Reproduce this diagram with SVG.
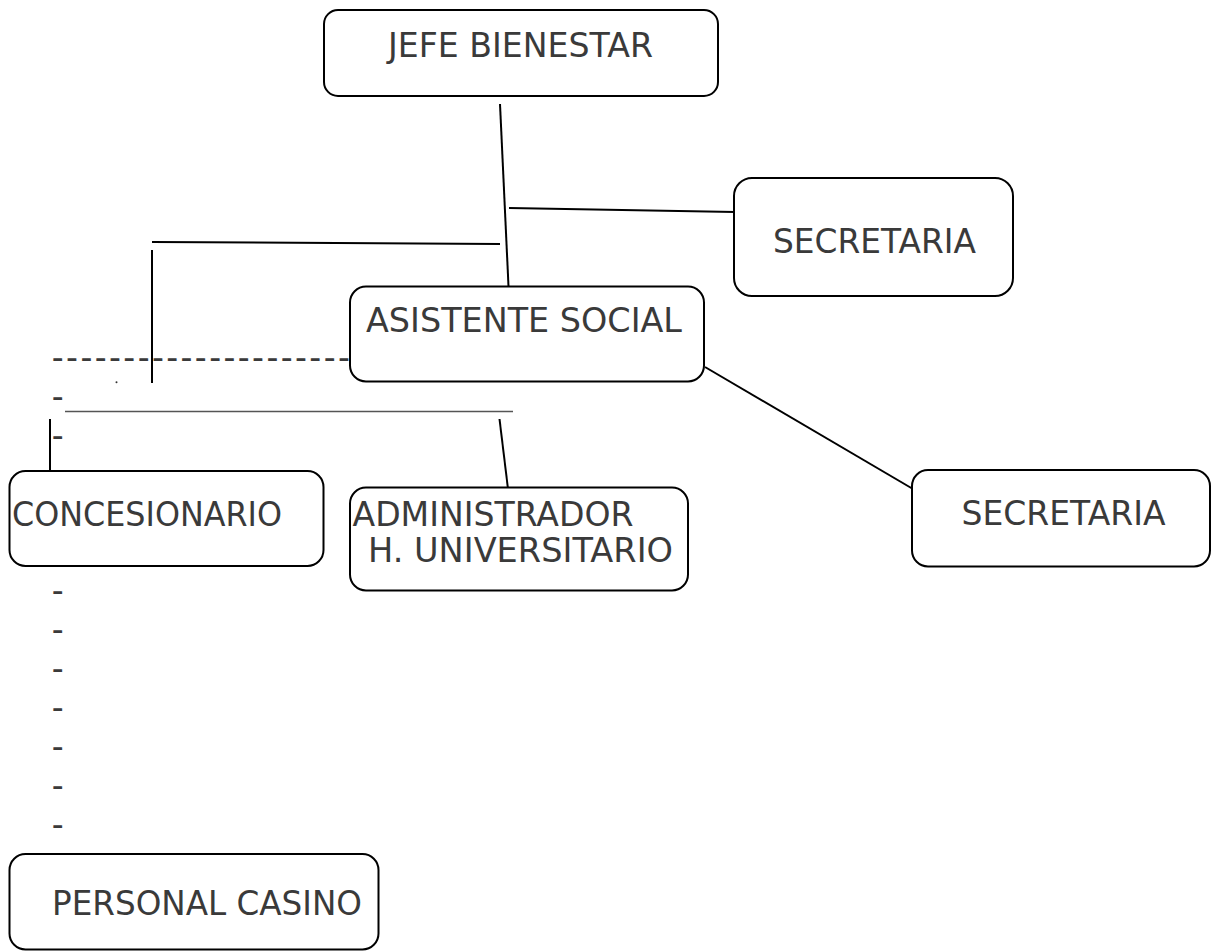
<svg xmlns="http://www.w3.org/2000/svg" width="1212" height="951" viewBox="0 0 1212 951">
<style>
.box{fill:#fff;stroke:#000;stroke-width:2}
.lbl{font-family:"DejaVu Sans","Verdana",sans-serif;font-size:33px;fill:#3a3a3a}
.hy{font-family:"DejaVu Sans","Verdana",sans-serif;font-size:33px;fill:#3a3a3a}
.ln{stroke:#000;stroke-width:2;fill:none}
</style>
<rect width="1212" height="951" fill="#fff"/>
<g id="connectors">
<line class="ln" x1="500" y1="104" x2="509" y2="297"/>
<line class="ln" x1="509" y1="208" x2="735" y2="212"/>
<line class="ln" x1="152" y1="242" x2="500" y2="244"/>
<line class="ln" x1="152" y1="250" x2="152" y2="383"/>
<line class="ln" x1="50" y1="419" x2="50" y2="472"/>
<line class="ln" x1="499.5" y1="419" x2="508" y2="489"/>
<line class="ln" x1="705" y1="367" x2="913" y2="489"/>
<line x1="65" y1="411.5" x2="513" y2="411.5" stroke="#555" stroke-width="1.3"/>
<circle cx="116.5" cy="382.3" r="1" fill="#333"/>
</g>
<g id="hyphens">
<text class="hy" x="51.8" y="368.5" letter-spacing="2.4">---------------------</text>
<text class="hy" x="51.8" y="407.5">-</text>
<text class="hy" x="51.8" y="446.5">-</text>
<text class="hy" x="51.8" y="601.5">-</text>
<text class="hy" x="51.8" y="640.5">-</text>
<text class="hy" x="51.8" y="679.5">-</text>
<text class="hy" x="51.8" y="718.5">-</text>
<text class="hy" x="51.8" y="757.5">-</text>
<text class="hy" x="51.8" y="796.5">-</text>
<text class="hy" x="51.8" y="835.5">-</text>
</g>
<g id="jefe">
<rect class="box" x="324" y="10" width="394" height="86" rx="14"/>
<text class="lbl" x="388" y="57" textLength="265" lengthAdjust="spacingAndGlyphs">JEFE BIENESTAR</text>
</g>
<g id="secretaria1">
<rect class="box" x="734" y="178" width="279" height="118" rx="18"/>
<text class="lbl" x="773" y="253" textLength="203" lengthAdjust="spacingAndGlyphs">SECRETARIA</text>
</g>
<g id="asistente">
<rect class="box" x="350" y="286.5" width="354" height="95" rx="16"/>
<text class="lbl" x="366" y="332" textLength="316" lengthAdjust="spacingAndGlyphs">ASISTENTE SOCIAL</text>
</g>
<g id="concesionario">
<rect class="box" x="9.5" y="471" width="314" height="95" rx="16"/>
<text class="lbl" x="12" y="526" textLength="270" lengthAdjust="spacingAndGlyphs">CONCESIONARIO</text>
</g>
<g id="administrador">
<rect class="box" x="350" y="487.5" width="338" height="103" rx="16"/>
<text class="lbl" x="352.5" y="526" textLength="281" lengthAdjust="spacingAndGlyphs">ADMINISTRADOR</text>
<text class="lbl" x="368" y="562" textLength="305" lengthAdjust="spacingAndGlyphs">H. UNIVERSITARIO</text>
</g>
<g id="secretaria2">
<rect class="box" x="912" y="470" width="298" height="96.5" rx="16"/>
<text class="lbl" x="961.5" y="525" textLength="204" lengthAdjust="spacingAndGlyphs">SECRETARIA</text>
</g>
<g id="personal">
<rect class="box" x="9.5" y="854" width="369" height="95.5" rx="16"/>
<text class="lbl" x="52" y="915" textLength="310" lengthAdjust="spacingAndGlyphs">PERSONAL CASINO</text>
</g>
</svg>
